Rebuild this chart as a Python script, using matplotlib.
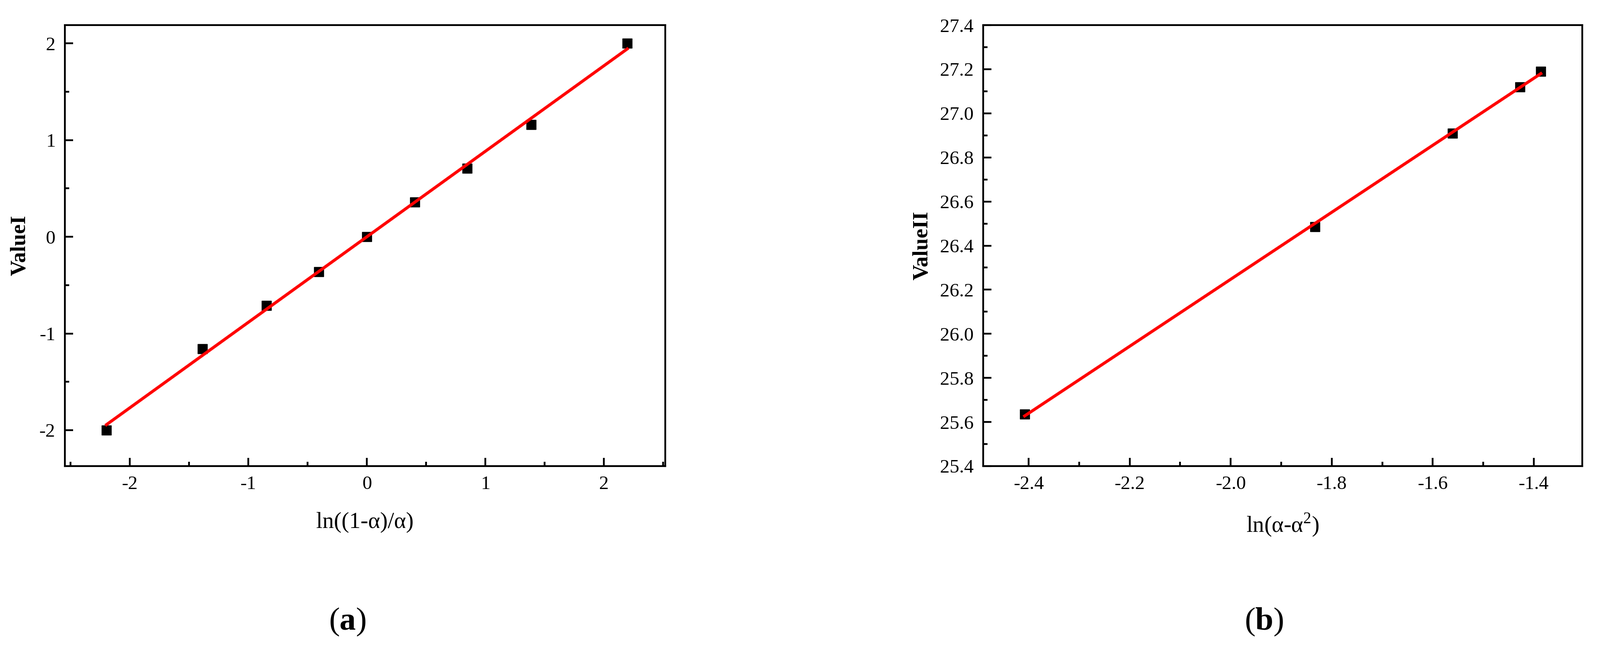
import numpy as np
import matplotlib
matplotlib.use('Agg')
import matplotlib.pyplot as plt
from matplotlib.ticker import MultipleLocator, FormatStrFormatter

plt.rcParams['font.family'] = ['Liberation Serif', 'DejaVu Serif']
plt.rcParams['mathtext.fontset'] = 'custom'
plt.rcParams['mathtext.rm'] = 'Liberation Serif'
plt.rcParams['mathtext.bf'] = 'Liberation Serif:bold'
plt.rcParams['axes.unicode_minus'] = False

# (a) ln((1-a)/a) vs ValueI
xa = [-2.197, -1.386, -0.847, -0.405, 0.0, 0.405, 0.847, 1.386, 2.197]
ya = [-2.0, -1.16, -0.71, -0.36, 0.0, 0.36, 0.71, 1.16, 2.0]

# (b) ln(a-a^2) vs ValueII
xb = [-2.408, -1.833, -1.561, -1.427, -1.386]
yb = [25.635, 26.485, 26.91, 27.12, 27.19]

fig = plt.figure(figsize=(36.99, 14.95), dpi=100)
ax1 = fig.add_axes([0.0406, 0.2796, 0.3752, 0.6816])
ax2 = fig.add_axes([0.6145, 0.2796, 0.3744, 0.6816])


def draw(ax, x, y):
    x = np.array(x)
    y = np.array(y)
    k, b = np.polyfit(x, y, 1)
    ax.plot(x, y, 's', color='black', markersize=16, zorder=2)
    xf = np.linspace(x.min(), x.max(), 50)
    ax.plot(xf, k * xf + b, color='red', lw=5, zorder=3)
    for s in ax.spines.values():
        s.set_linewidth(3)
    ax.tick_params(which='both', direction='in', width=3, labelsize=32,
                   top=False, right=False, pad=16)
    ax.tick_params(which='major', length=14)
    ax.tick_params(which='minor', length=7)


draw(ax1, xa, ya)
ax1.set_xlim(-2.547, 2.518)
ax1.set_ylim(-2.372, 2.19)
ax1.xaxis.set_major_locator(MultipleLocator(1))
ax1.xaxis.set_minor_locator(MultipleLocator(0.5))
ax1.yaxis.set_major_locator(MultipleLocator(1))
ax1.yaxis.set_minor_locator(MultipleLocator(0.5))
ax1.set_xlabel('ln((1-α)/α)', fontsize=38)
ax1.set_ylabel('ValueI', fontsize=36, fontweight='bold')
ax1.xaxis.set_label_coords(0.5, -0.104)
ax1.yaxis.set_label_coords(-0.058, 0.5)

draw(ax2, xb, yb)
ax2.set_xlim(-2.49, -1.304)
ax2.set_ylim(25.4, 27.4)
ax2.xaxis.set_major_locator(MultipleLocator(0.2))
ax2.xaxis.set_minor_locator(MultipleLocator(0.1))
ax2.yaxis.set_major_locator(MultipleLocator(0.2))
ax2.yaxis.set_minor_locator(MultipleLocator(0.1))
ax2.xaxis.set_major_formatter(FormatStrFormatter('%.1f'))
ax2.yaxis.set_major_formatter(FormatStrFormatter('%.1f'))
ax2.set_xlabel('ln(α-α$^{2}$)', fontsize=38)
ax2.set_ylabel('ValueII', fontsize=36, fontweight='bold')
ax2.xaxis.set_label_coords(0.5, -0.104)
ax2.yaxis.set_label_coords(-0.085, 0.5)

fig.text(0.217, 0.039, r'($\mathbf{a}$)', fontsize=54, ha='center', va='center')
fig.text(0.790, 0.039, r'($\mathbf{b}$)', fontsize=54, ha='center', va='center')

fig.savefig('out.png', dpi=100, facecolor='white')
